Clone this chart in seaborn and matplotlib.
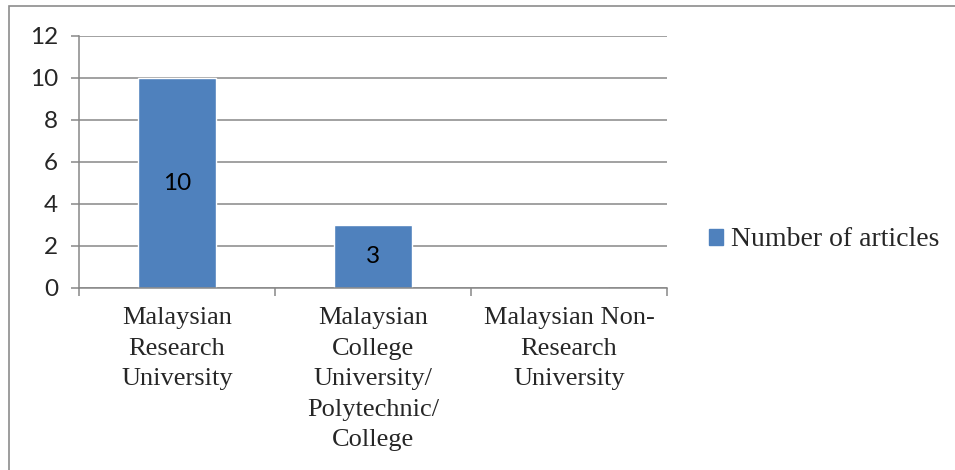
import matplotlib
matplotlib.use("Agg")
import matplotlib.pyplot as plt
import seaborn as sns
import pandas as pd
from matplotlib.patches import Rectangle

categories = ["Malaysian\nResearch\nUniversity",
              "Malaysian\nCollege\nUniversity/\nPolytechnic/\nCollege",
              "Malaysian Non-\nResearch\nUniversity"]
values = [10, 3, 0]
series_name = "Number of articles"
yticks = [0, 2, 4, 6, 8, 10, 12]

df = pd.DataFrame({"cat": categories, "val": values})

sns.set_style("white")
fig = plt.figure(figsize=(9.55, 4.7), dpi=100)
ax = fig.add_axes([79/955, 1-288/470, (667-79)/955, (288-36)/470])

bar_color = "#4F81BD"
grid_color = "#878787"
sns.barplot(data=df, x="cat", y="val", color=bar_color, width=0.4, ax=ax,
            saturation=1, label=series_name, legend=False)

ax.set_ylim(0, 12)
ax.set_xlim(-0.5, 2.5)
ax.set_yticks(yticks)
ax.set_yticklabels([str(t) for t in yticks], fontfamily="Lato", fontsize=17.5)
ax.set_xlabel("")
ax.set_ylabel("")
ax.yaxis.grid(True, color=grid_color, linewidth=1.1)
ax.set_axisbelow(True)
for s in ["top", "right"]:
    ax.spines[s].set_visible(False)
for s in ["left", "bottom"]:
    ax.spines[s].set_color(grid_color)
    ax.spines[s].set_linewidth(1.1)
ax.tick_params(axis="y", length=6, width=1.1, color=grid_color, pad=9, left=True)
ax.tick_params(axis="x", which="major", length=0, pad=14)
ax.set_xticks([-0.5, 0.5, 1.5, 2.5], minor=True)
ax.tick_params(axis="x", which="minor", length=6, width=1.1, color=grid_color, bottom=True)
ax.set_xticks(range(len(categories)))
ax.set_xticklabels(categories, fontfamily="Liberation Serif", fontsize=19,
                   linespacing=1.5)

for i, v in enumerate(values):
    if v > 0:
        ax.text(i, v / 2, str(v), ha="center", va="center",
                fontfamily="Lato", fontsize=17.5, color="black")

handle = Rectangle((0, 0), 1, 1, color=bar_color)
fig.legend([handle], [series_name], loc="center left",
           bbox_to_anchor=(709/955, 1-240/470), frameon=False,
           borderaxespad=0, borderpad=0,
           prop={"family": "Liberation Serif", "size": 20},
           handlelength=0.5, handleheight=0.5, handletextpad=0.3)

fig.patches.append(Rectangle((9/955, -0.1), 1.2, 1.1 - 6/470,
                             transform=fig.transFigure, fill=False,
                             edgecolor="#8c8c8c", linewidth=1.2))

fig.savefig("out.png", dpi=100)
